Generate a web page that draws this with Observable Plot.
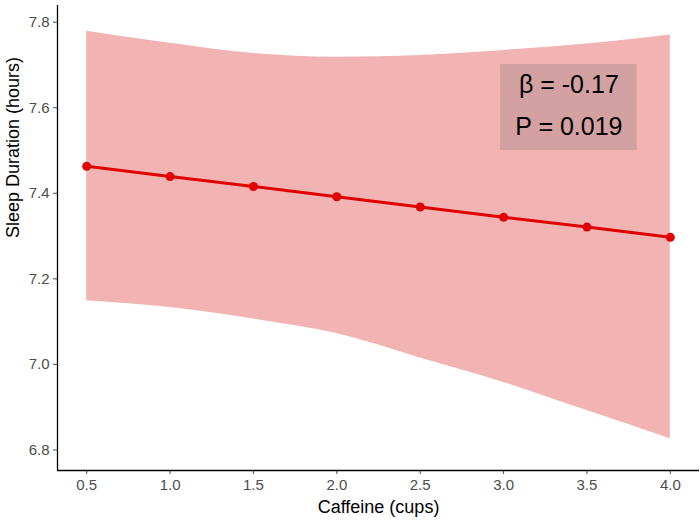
<!DOCTYPE html>
<html>
<head>
<meta charset="utf-8">
<script src="https://cdn.jsdelivr.net/npm/d3@7"></script>
<script src="https://cdn.jsdelivr.net/npm/@observablehq/plot@0.6"></script>
<style>
  html, body { margin: 0; padding: 0; background: #fff; }
  #chart { width: 700px; height: 520px; }
  svg { font-family: "Liberation Sans", Arial, sans-serif; }
</style>
</head>
<body>
<div id="chart"></div>
<script>
// Data
const caffeine = [0.5, 1.0, 1.5, 2.0, 2.5, 3.0, 3.5, 4.0];
const sleepFit = [7.463, 7.439, 7.416, 7.392, 7.368, 7.344, 7.321, 7.297];
const ciUpper  = [7.779, 7.751, 7.727, 7.718, 7.722, 7.734, 7.749, 7.770];
const ciLower  = [7.149, 7.133, 7.106, 7.072, 7.015, 6.958, 6.892, 6.826];
const xTicks = [0.5, 1.0, 1.5, 2.0, 2.5, 3.0, 3.5, 4.0];
const yTicks = [6.8, 7.0, 7.2, 7.4, 7.6, 7.8];
const annoLines = ["β = -0.17", "P = 0.019"];
const annoX = [2.982, 3.801];   // box extent (x, data units)
const annoY = [7.500, 7.701];   // box extent (y, data units)
const annoTextY = [7.652, 7.555];

const rows = caffeine.map((c, i) => ({x: c, y: sleepFit[i], lo: ciLower[i], hi: ciUpper[i]}));
const annoX0 = (annoX[0] + annoX[1]) / 2;
const annoRows = annoLines.map((t, i) => ({t, x: annoX0, y: annoTextY[i]}));

const chart = Plot.plot({
  width: 700,
  height: 520,
  marginLeft: 57,
  marginRight: 1,
  marginTop: 5,
  marginBottom: 50,
  style: {fontFamily: "'Liberation Sans', Arial, sans-serif", background: "#fff"},
  x: {domain: [0.325, 4.175], ticks: xTicks, tickFormat: d3.format(".1f"), label: null},
  y: {domain: [6.752, 7.839], ticks: yTicks, tickFormat: d3.format(".1f"), label: null},
  marks: [
    Plot.areaY(rows, {x: "x", y1: "lo", y2: "hi", fill: "#f2b3b3", curve: "monotone-x"}),
    Plot.rect([{}], {x1: annoX[0], x2: annoX[1], y1: annoY[0], y2: annoY[1], fill: "#d4a1a2"}),
    Plot.text(annoRows, {x: "x", y: "y", text: "t", fontSize: 25, fill: "#000", textAnchor: "middle"}),
    Plot.line(rows, {x: "x", y: "y", stroke: "#e00000", strokeWidth: 3}),
    Plot.dot(rows, {x: "x", y: "y", r: 4.5, fill: "#e00000", stroke: "none"}),
    Plot.axisX({ticks: xTicks, tickFormat: d3.format(".1f"), tickSize: 4, tickPadding: 5, fontSize: 15, color: "#4d4d4d", label: null}),
    Plot.axisY({ticks: yTicks, tickFormat: d3.format(".1f"), tickSize: 4, tickPadding: 4, fontSize: 15, color: "#4d4d4d", label: null}),
    Plot.ruleX([0.325], {stroke: "#000", strokeWidth: 1.3}),
    Plot.ruleY([6.752], {stroke: "#000", strokeWidth: 1.3}),
    Plot.text(["Caffeine (cups)"], {frameAnchor: "bottom", dy: 42, fontSize: 18, fill: "#000"}),
    Plot.text(["Sleep Duration (hours)"], {frameAnchor: "left", dx: -44, rotate: -90, fontSize: 18, fill: "#000"})
  ]
});
document.getElementById("chart").appendChild(chart);
</script>
</body>
</html>
